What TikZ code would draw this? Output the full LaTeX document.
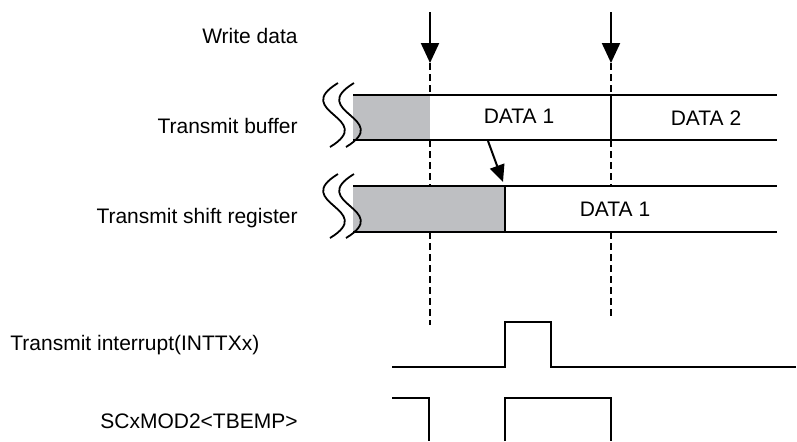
\documentclass[tikz,border=0pt]{standalone}
\usepackage{fontspec}
\setmainfont{Liberation Sans}
\usepackage{xcolor}
\usetikzlibrary{arrows.meta}
\definecolor{bufgray}{RGB}{190,191,194}

\begin{document}
\begin{tikzpicture}[x=0.5pt, y=-0.5pt, every node/.style={font=\fontsize{10.5}{12}\selectfont, inner sep=0pt},
  sig/.style={line width=1.1pt, line join=miter},
  guide/.style={line width=0.65pt, dash pattern=on 3.5pt off 2pt},
  wrarrow/.style={line width=1.1pt, -{Triangle[length=10pt, width=9pt]}},
  squig/.style={line width=0.9pt}]
\useasboundingbox (0,0) rectangle (797,441);
% Signal names on the left
\node[anchor=base east] (wrlbl) at (298,43) {Write data};
\node[anchor=base east] (buflbl) at (298,133) {Transmit buffer};
\node[anchor=base east] (shiftlbl) at (298,223) {Transmit shift register};
\node[anchor=base west] (intlbl) at (10,350) {Transmit interrupt(INTTXx)};
\node[anchor=base east] (emplbl) at (298,428) {SCxMOD2<TBEMP>};
% Write points: arrow plus dashed guide (broken where it crosses the boxes)
\foreach \x/\yend/\n in {430/325/A, 611/318/B} {
  \coordinate (top\n) at (\x,12);
  \coordinate (wr\n) at (\x,63);
  \draw[wrarrow] (top\n) -- (wr\n);
  \draw[guide] (wr\n) -- (\x,95);
  \draw[guide] (\x,140) -- (\x,186);
  \draw[guide] (\x,232) -- (\x,\yend);
}
% Transmit buffer
\fill[bufgray] (353,95) rectangle (430,140);
\draw[sig] (353,95) -- (777,95);
\draw[sig] (353,140) -- (777,140);
\draw[sig] (611,95) -- (611,140);
\node[anchor=base] (bufA) at (519,123) {DATA 1};
\node[anchor=base] (bufB) at (706,125) {DATA 2};
% Transmit shift register
\fill[bufgray] (353,186) rectangle (505,232);
\draw[sig] (353,186) -- (777,186);
\draw[sig] (353,232) -- (777,232);
\draw[sig] (505,186) -- (505,232);
\node[anchor=base] (shiftA) at (615,216) {DATA 1};
% Break marks at the left end of both rows
\foreach \y in {0,91} {
  \foreach \dx in {0,16} {
    \draw[squig, shift={(\dx,\y)}] (338,83) .. controls (290,112) and (378,118) .. (330,147);
  }
}
% Buffer to shift register transfer
\coordinate (xfrA) at (488,141);
\coordinate (xfrB) at (503,182);
\draw[line width=1pt, -{Triangle[length=8.5pt, width=7.5pt]}] (xfrA) -- (xfrB);
% Transmit interrupt pulse
\draw[sig] (392,367) -- (505,367) -- (505,322) -- (551,322) -- (551,367) -- (796,367);
% TBEMP flag
\draw[sig] (392,398) -- (429,398) -- (429,441);
\draw[sig] (505,441) -- (505,398) -- (611,398) -- (611,441);
\end{tikzpicture}
\end{document}
